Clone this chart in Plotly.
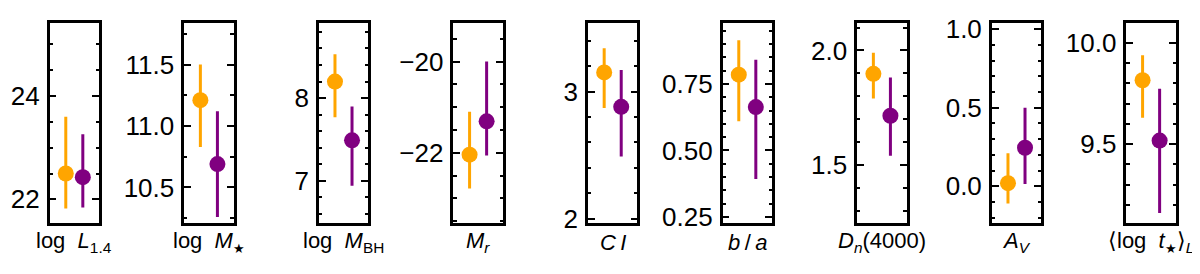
import plotly.graph_objects as go

# ---- data ----
STAR = "<span style='font-size:13px'>\u2605</span>"
labels = [
    "log\u00a0\u00a0<i>L</i><sub>1.4</sub>",
    "log\u00a0\u00a0<i>M</i><sub>" + STAR + "</sub>",
    "log\u00a0\u00a0<i>M</i><sub>BH</sub>",
    "<i>M<sub>r</sub></i>",
    "<i>C\u2009I</i>",
    "<i>b</i>\u2009/\u2009<i>a</i>",
    "<i>D<sub>n</sub></i>(4000)",
    "<i>A<sub>V</sub></i>",
    "\u27e8log\u00a0\u00a0<i>t</i><sub>" + STAR + "</sub>\u27e9<sub><i>L</i></sub>",
]
orange_val = [22.50, 11.21, 8.20, -22.04, 3.15, 0.785, 1.898, 0.02, 9.816]
orange_hi = [23.60, 11.50, 8.53, -21.10, 3.34, 0.914, 1.99, 0.21, 9.94]
orange_lo = [21.82, 10.83, 7.77, -22.78, 2.87, 0.61, 1.79, -0.11, 9.63]
purple_val = [22.43, 10.69, 7.49, -21.31, 2.88, 0.663, 1.715, 0.245, 9.518]
purple_hi = [23.26, 11.12, 7.90, -20.00, 3.17, 0.841, 1.882, 0.50, 9.774]
purple_lo = [21.84, 10.26, 6.94, -22.06, 2.49, 0.393, 1.54, 0.015, 9.16]

# axis settings
y_ranges = [[21.54, 25.42], [10.21, 11.84], [6.49, 8.91], [-23.54, -19.15],
            [1.967, 3.54], [0.227, 0.98], [1.246, 2.121], [-0.234, 1.04], [9.11, 10.1]]
major_dt = [2, 0.5, 1, 2, 1, 0.25, 0.5, 0.5, 0.5]
minor_dt = [0.5, 0.25, 0.2, 0.5, 0.2, 0.05, 0.1, 0.1, 0.1]
tick_fmt = ["d", ".1f", "d", "d", "d", ".2f", ".1f", ".1f", ".1f"]

ORANGE = "#FFA500"
PURPLE = "#800080"
W, H = 1200, 274
FONT = "Liberation Sans"

fig = go.Figure()
layout = dict(
    width=W, height=H, margin=dict(l=0, r=0, t=0, b=0),
    paper_bgcolor="white", plot_bgcolor="white", showlegend=False,
    font=dict(family=FONT, size=22, color="black"),
    annotations=[],
)

left0, step, width = 41.6, 134.6, 49.4
top_px, bot_px = 7.3, 222.5

for i in range(9):
    xa = "x" if i == 0 else f"x{i+1}"
    ya = "y" if i == 0 else f"y{i+1}"
    for x, v, hi, lo, c in [(0, orange_val[i], orange_hi[i], orange_lo[i], ORANGE),
                            (1, purple_val[i], purple_hi[i], purple_lo[i], PURPLE)]:
        fig.add_trace(go.Scatter(
            x=[x], y=[v], xaxis=xa, yaxis=ya, mode="markers",
            marker=dict(size=16, color=c, line=dict(width=0)),
            error_y=dict(type="data", symmetric=False, array=[hi - v], arrayminus=[v - lo],
                         color=c, thickness=3, width=0),
            hoverinfo="skip",
        ))
    x0 = (left0 + i * step) / W
    x1 = (left0 + i * step + width) / W
    xkey = "xaxis" if i == 0 else f"xaxis{i+1}"
    ykey = "yaxis" if i == 0 else f"yaxis{i+1}"
    layout[xkey] = dict(
        domain=[x0, x1], range=[-0.95, 1.95], anchor=ya,
        showticklabels=False, ticks="", showgrid=False, zeroline=False,
        showline=True, linecolor="black", linewidth=2.5, mirror=True,
    )
    layout[ykey] = dict(
        domain=[1 - bot_px / H, 1 - top_px / H], range=y_ranges[i], anchor=xa,
        dtick=major_dt[i], tick0=0, tickformat=tick_fmt[i],
        ticks="inside", ticklen=7, tickwidth=1.5, tickcolor="black",
        minor=dict(dtick=minor_dt[i], tick0=0, ticks="inside", ticklen=3.5,
                   tickwidth=1.5, tickcolor="black"),
        showgrid=False, zeroline=False,
        showline=True, linecolor="black", linewidth=2.5, mirror="allticks",
        ticklabelstandoff=2, ticklabeloverflow="allow",
        tickfont=dict(family=FONT, size=26, color="black"),
    )
    layout["annotations"].append(dict(
        text=labels[i], xref="paper", yref="paper",
        x=(x0 + x1) / 2, y=1 - 243 / H, xanchor="center", yanchor="middle",
        showarrow=False, font=dict(family=FONT, size=22, color="black"),
    ))

fig.update_layout(**layout)
fig.write_html("out.html")
